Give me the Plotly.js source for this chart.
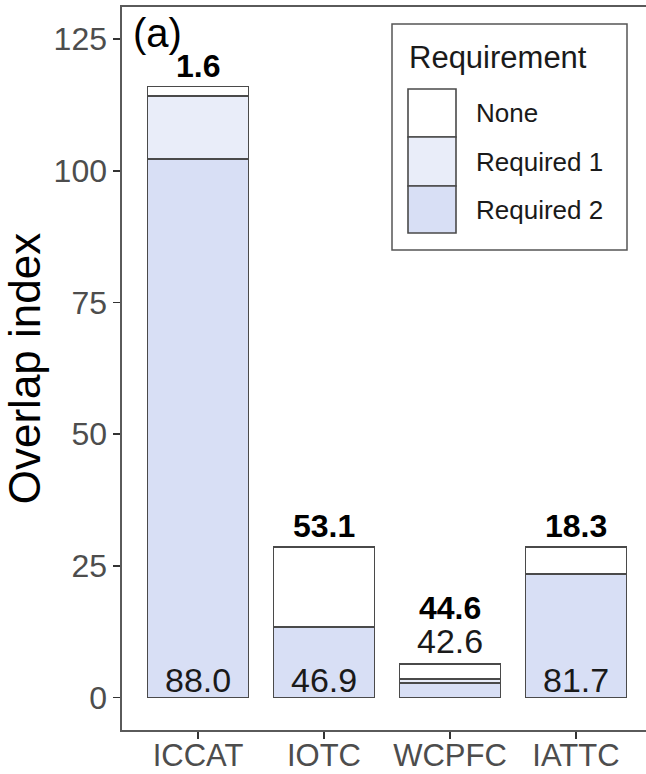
<!DOCTYPE html>
<html>
<head>
<meta charset="utf-8">
<script src="https://cdn.plot.ly/plotly-3.0.1.min.js"></script>
<style>html,body{margin:0;padding:0;background:#fff;}#chart{width:646px;height:774px;}</style>
</head>
<body>
<div id="chart"></div>
<script>
// ---- data ----
const categories = ["ICCAT", "IOTC", "WCPFC", "IATTC"];
const required2 = [102.2, 13.4, 2.73, 23.4];
const required1 = [12.0, 0, 0.82, 0];
const none = [1.8, 15.2, 2.85, 5.2];
const pctNone = ["1.6", "53.1", "44.6", "18.3"];
const pctRequired2 = ["88.0", "46.9", "42.6", "81.7"];
const seriesNames = ["None", "Required 1", "Required 2"];
const yTicks = [0, 25, 50, 75, 100, 125];

// ---- style ----
const colNone = "#ffffff", colR1 = "#e9edf9", colR2 = "#d8dff5";
const outline = "#4a4a4a";
const W = 646, H = 774, M = {l: 122, r: 0, t: 7, b: 44};
const PW = W - M.l - M.r, PH = H - M.t - M.b;
const px = x => (x - M.l) / PW;
const py = y => (H - M.b - y) / PH;
const FONT = "Liberation Sans, Arial, sans-serif";

function barTrace(name, vals, color) {
  return {
    type: "bar", name: name, x: categories, y: vals, width: 0.8,
    marker: {color: color, line: {color: outline, width: 1.6}},
    showlegend: false, hoverinfo: "skip"
  };
}
const totals = categories.map((c, i) => required2[i] + required1[i] + none[i]);

const traces = [
  barTrace(seriesNames[2], required2, colR2),
  barTrace(seriesNames[1], required1, colR1),
  barTrace(seriesNames[0], none, colNone)
];

const annotations = [];
categories.forEach((c, i) => {
  const small = totals[i] < 10;
  annotations.push({
    x: c, y: totals[i], xref: "x", yref: "y", text: "<b>" + pctNone[i] + "</b>",
    showarrow: false, yanchor: "bottom", yshift: small ? 36 : 1,
    font: {family: FONT, size: 32, color: "#000"}
  });
  annotations.push({
    x: c, y: small ? totals[i] : 0, xref: "x", yref: "y", text: pctRequired2[i],
    showarrow: false, yanchor: "bottom", yshift: small ? 2 : -3,
    font: {family: FONT, size: 34, color: "#1a1a1a"}
  });
});
annotations.push({
  x: px(131), y: py(33), xref: "paper", yref: "paper", text: "(a)", showarrow: false,
  xanchor: "left", yanchor: "middle", font: {family: FONT, size: 40, color: "#000"}
});

// legend (drawn)
const shapes = [
  {type: "rect", xref: "paper", yref: "paper", x0: px(392), x1: px(627), y0: py(250), y1: py(24),
   line: {color: "#555", width: 1.5}, fillcolor: "#fff", layer: "above"}
];
const keyTops = [89, 137, 186, 233];
const keyCols = [colNone, colR1, colR2];
keyCols.forEach((col, k) => {
  shapes.push({type: "rect", xref: "paper", yref: "paper", x0: px(408), x1: px(456),
    y0: py(keyTops[k + 1]), y1: py(keyTops[k]), fillcolor: col,
    line: {color: outline, width: 1.6}, layer: "above"});
  annotations.push({x: px(474), y: py((keyTops[k] + keyTops[k + 1]) / 2), xref: "paper", yref: "paper",
    text: seriesNames[k], showarrow: false, xanchor: "left", yanchor: "middle",
    font: {family: FONT, size: 26, color: "#1a1a1a"}});
});
annotations.push({x: px(407), y: py(58), xref: "paper", yref: "paper", text: "Requirement",
  showarrow: false, xanchor: "left", yanchor: "middle", font: {family: FONT, size: 31, color: "#1a1a1a"}});

const layout = {
  width: W, height: H, margin: {l: M.l, r: M.r, t: M.t, b: M.b, pad: 0},
  paper_bgcolor: "#fff", plot_bgcolor: "#fff",
  barmode: "stack", showlegend: false,
  xaxis: {
    type: "category", range: [-0.603, 3.556], showline: true, mirror: true,
    linecolor: "#5a5a5a", linewidth: 1.6, ticks: "outside", ticklen: 7, tickwidth: 1.6,
    tickcolor: "#333", showgrid: false, zeroline: false, ticklabelstandoff: -10,
    tickfont: {family: FONT, size: 31, color: "#4d4d4d"}, fixedrange: true
  },
  yaxis: {
    range: [-6.17, 131.1], tickvals: yTicks, ticktext: yTicks.map(String),
    showline: true, linecolor: "#5a5a5a", linewidth: 1.6, ticks: "outside", ticklen: 7,
    tickwidth: 1.6, tickcolor: "#333", showgrid: false, zeroline: false,
    tickfont: {family: FONT, size: 32, color: "#4d4d4d"},
    title: {text: "Overlap index", font: {family: FONT, size: 44, color: "#000"}, standoff: 0},
    fixedrange: true
  },
  shapes: shapes, annotations: annotations
};

Plotly.newPlot("chart", traces, layout, {displayModeBar: false, staticPlot: true});
</script>
</body>
</html>
